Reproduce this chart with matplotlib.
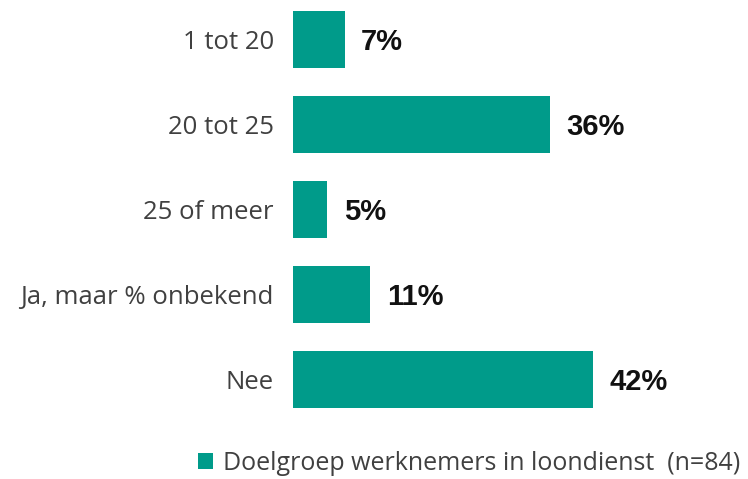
import matplotlib.pyplot as plt

categories = ['1 tot 20', '20 tot 25', '25 of meer', 'Ja, maar % onbekend', 'Nee']
counts = [6, 30, 4, 9, 35]
n_total = 84
percent = [c / n_total * 100 for c in counts]
series_name = 'Doelgroep werknemers in loondienst  (n=84)'

color = '#009B8A'

fig = plt.figure(figsize=(7.48, 4.79), dpi=100)
ax = fig.add_axes([0.392, 0.119, 0.58, 0.888])

y = range(len(categories))
bars = ax.barh(y, percent, height=0.67, color=color, label=series_name)
ax.set_ylim(len(categories) - 0.5, -0.5)
ax.set_xlim(0, 60.3)

for i, p in enumerate(percent):
    ax.text(p + 2.3, i, f'{round(p)}%', va='center_baseline', ha='left',
            fontsize=21, fontweight='bold', color='#111111', family='Liberation Sans')

ax.set_yticks(list(y))
ax.set_yticklabels(categories, fontsize=18.5, color='#404040', family='Open Sans')
ax.tick_params(axis='y', length=0, pad=14)
ax.set_xticks([])
for s in ax.spines.values():
    s.set_visible(False)

fig.legend(handles=[bars], loc='center', bbox_to_anchor=(0.627, 0.033),
           frameon=False, handlelength=0.6, handleheight=0.6, handletextpad=0.4,
           prop={'family': 'Open Sans', 'size': 18}, labelcolor='#404040')

fig.savefig('out.png', dpi=100)
